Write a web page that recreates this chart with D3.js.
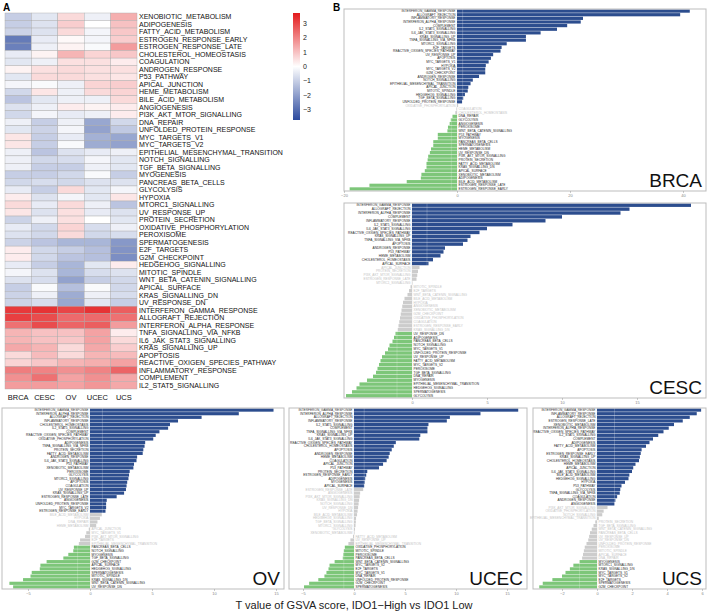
<!DOCTYPE html>
<html><head><meta charset="utf-8">
<script src="https://cdn.jsdelivr.net/npm/d3@7"></script>
<style>body{margin:0;background:#fff}svg{display:block}</style>
</head><body>
<svg id="c" width="709" height="616"></svg>
<script>
// ---------- DATA ----------
const cancers = ["BRCA","CESC","OV","UCEC","UCS"];
const pathways = ["XENOBIOTIC_METABOLISM","ADIPOGENESIS","FATTY_ACID_METABOLISM","ESTROGEN_RESPONSE_EARLY","ESTROGEN_RESPONSE_LATE","CHOLESTEROL_HOMEOSTASIS","COAGULATION","ANDROGEN_RESPONSE","P53_PATHWAY","APICAL_JUNCTION","HEME_METABOLISM","BILE_ACID_METABOLISM","ANGIOGENESIS","PI3K_AKT_MTOR_SIGNALLING","DNA_REPAIR","UNFOLDED_PROTEIN_RESPONSE","MYC_TARGETS_V1","MYC_TARGETS_V2","EPITHELIAL_MESENCHYMAL_TRANSITION","NOTCH_SIGNALLING","TGF_BETA_SIGNALLING","MYOGENESIS","PANCREAS_BETA_CELLS","GLYCOLYSIS","HYPOXIA","MTORC1_SIGNALLING","UV_RESPONSE_UP","PROTEIN_SECRETION","OXIDATIVE_PHOSPHORYLATION","PEROXISOME","SPERMATOGENESIS","E2F_TARGETS","G2M_CHECKPOINT","HEDGEHOG_SIGNALLING","MITOTIC_SPINDLE","WNT_BETA_CATENIN_SIGNALLING","APICAL_SURFACE","KRAS_SIGNALLING_DN","UV_RESPONSE_DN","INTERFERON_GAMMA_RESPONSE","ALLOGRAFT_REJECTION","INTERFERON_ALPHA_RESPONSE","TNFA_SIGNALLING_VIA_NFKB","IL6_JAK_STAT3_SIGNALLING","KRAS_SIGNALLING_UP","APOPTOSIS","REACTIVE_OXIGEN_SPECIES_PATHWAY","INFLAMMATORY_RESPONSE","COMPLEMENT","IL2_STAT5_SIGNALLING"];
const heatBRCA = [-1.0,-1.0,-0.9,-2.7,-2.6,-0.4,-0.5,0.2,-0.5,-0.2,-0.8,-1.2,-0.6,-0.8,-0.3,-0.5,0.4,0.4,-0.3,-0.3,-0.3,-1.0,-0.8,-0.4,0.3,0.6,0.4,-0.9,-0.4,-0.6,-0.9,0.3,0.3,-0.4,-0.2,-0.6,-1.0,-0.9,-0.9,3.2,3.1,2.3,1.2,1.2,1.4,0.6,0.7,2.1,1.8,1.6];
const heatCESC = [-0.5,-0.6,-0.6,-0.4,-0.3,0.2,-0.3,0.5,0.6,-0.1,0.4,-0.5,-0.3,-0.2,-1.0,-0.9,-1.0,-1.0,-1.2,-0.8,-1.0,-1.0,-0.7,-1.0,-0.6,-0.4,-0.6,-0.3,-0.8,-0.8,-1.2,-0.8,-0.8,-1.0,-0.6,-0.7,-0.1,-0.3,-0.7,3.3,2.9,2.9,1.0,1.0,1.2,1.1,0.9,2.0,2.3,1.6];
const heatOV   = [0.6,0.8,0.6,0.1,0.2,1.2,0.5,0.6,0.6,-0.3,-0.3,-0.3,0.3,-0.4,-0.3,-0.2,-0.4,-0.1,-0.6,-0.7,-1.0,-0.8,-0.8,0.6,-0.2,0.6,0.5,0.5,0.7,0.6,-1.5,-1.0,-1.2,-1.5,-1.5,-1.9,-1.3,-1.7,-1.8,3.0,2.4,2.5,1.0,0.9,0.6,0.6,1.2,1.8,1.5,1.5];
const heatUCEC = [-0.3,0.0,-0.2,-0.2,-0.1,0.7,0.5,0.5,0.5,0.7,0.6,-0.3,0.2,-0.3,-1.8,-1.9,-1.6,-1.7,-0.4,-0.2,-0.3,-0.1,-0.6,-0.5,-0.5,-0.3,-0.4,0.0,-0.7,-0.8,-1.5,-1.3,-1.3,-0.5,-0.7,-1.0,-0.1,-0.3,-0.5,3.3,2.4,2.6,1.5,1.5,1.4,1.2,1.3,2.0,1.8,1.7];
const heatUCS  = [1.3,1.0,0.9,0.8,1.6,0.9,0.3,0.5,0.4,0.8,0.7,0.6,0.3,0.3,-0.8,-1.1,-1.8,-1.9,-0.3,-0.5,-0.5,-1.0,-0.6,-0.2,0.4,-1.2,-0.6,-0.5,-0.3,-0.7,-2.1,-2.2,-2.3,0.3,-0.6,-0.8,-0.8,-0.7,-1.0,2.6,2.3,1.6,0.3,0.6,0.8,1.1,1.5,2.5,1.4,1.4];
const legendTicks = [3,2,1,0,-1,-2,-3];

const brcaNames = ["INTERFERON_GAMMA_RESPONSE","ALLOGRAFT_REJECTION","INFLAMMATORY_RESPONSE","INTERFERON_ALPHA_RESPONSE","COMPLEMENT","IL2_STAT5_SIGNALLING","IL6_JAK_STAT3_SIGNALLING","KRAS_SIGNALLING_UP","TNFA_SIGNALLING_VIA_NFKB","MTORC1_SIGNALLING","E2F_TARGETS","REACTIVE_OXIGEN_SPECIES_PATHWAY","UV_RESPONSE_UP","APOPTOSIS","MYC_TARGETS_V1","HYPOXIA","MYC_TARGETS_V2","G2M_CHECKPOINT","ANDROGEN_RESPONSE","NOTCH_SIGNALLING","EPITHELIAL_MESENCHYMAL_TRANSITION","APICAL_JUNCTION","MITOTIC_SPINDLE","HEDGEHOG_SIGNALLING","TGF_BETA_SIGNALLING","UNFOLDED_PROTEIN_RESPONSE","OXIDATIVE_PHOSPHORYLATION","COAGULATION","CHOLESTEROL_HOMEOSTASIS","DNA_REPAIR","GLYCOLYSIS","ANGIOGENESIS","PEROXISOME","WNT_BETA_CATENIN_SIGNALLING","P53_PATHWAY","MYOGENESIS","PANCREAS_BETA_CELLS","SPERMATOGENESIS","HEME_METABOLISM","UV_RESPONSE_DN","PI3K_AKT_MTOR_SIGNALLING","PROTEIN_SECRETION","FATTY_ACID_METABOLISM","KRAS_SIGNALLING_DN","APICAL_SURFACE","XENOBIOTIC_METABOLISM","ADIPOGENESIS","BILE_ACID_METABOLISM","ESTROGEN_RESPONSE_LATE","ESTROGEN_RESPONSE_EARLY"];
const brcaT = [41.2,39.5,22.3,21.9,19.5,17.7,14.8,12.2,12.2,8.8,7.9,7.7,6.4,6.0,5.6,5.1,5.0,5.0,3.9,2.8,2.4,2.0,1.9,1.4,1.1,0.9,0.2,-0.1,-0.3,-0.8,-1.1,-1.3,-1.6,-1.7,-3.4,-3.4,-4.2,-4.2,-4.6,-4.8,-5.1,-5.2,-5.4,-5.4,-5.7,-6.3,-6.4,-8.9,-15.5,-19.0];
const brcaSig = [26,21];
const brcaTicks = [-20,0,20,40];

const cescNames = ["INTERFERON_GAMMA_RESPONSE","ALLOGRAFT_REJECTION","INTERFERON_ALPHA_RESPONSE","COMPLEMENT","INFLAMMATORY_RESPONSE","IL2_STAT5_SIGNALLING","IL6_JAK_STAT3_SIGNALLING","REACTIVE_OXIGEN_SPECIES_PATHWAY","KRAS_SIGNALLING_UP","TNFA_SIGNALLING_VIA_NFKB","APOPTOSIS","ANDROGEN_RESPONSE","P53_PATHWAY","HEME_METABOLISM","CHOLESTEROL_HOMEOSTASIS","APICAL_SURFACE","APICAL_JUNCTION","PROTEIN_SECRETION","PI3K_AKT_MTOR_SIGNALLING","ESTROGEN_RESPONSE_LATE","MTORC1_SIGNALLING","MITOTIC_SPINDLE","E2F_TARGETS","WNT_BETA_CATENIN_SIGNALLING","BILE_ACID_METABOLISM","HYPOXIA","ANGIOGENESIS","XENOBIOTIC_METABOLISM","G2M_CHECKPOINT","OXIDATIVE_PHOSPHORYLATION","COAGULATION","ESTROGEN_RESPONSE_EARLY","KRAS_SIGNALLING_DN","UV_RESPONSE_DN","ADIPOGENESIS","PANCREAS_BETA_CELLS","NOTCH_SIGNALLING","MYC_TARGETS_V1","UNFOLDED_PROTEIN_RESPONSE","UV_RESPONSE_UP","FATTY_ACID_METABOLISM","MYC_TARGETS_V2","PEROXISOME","TGF_BETA_SIGNALLING","DNA_REPAIR","MYOGENESIS","EPITHELIAL_MESENCHYMAL_TRANSITION","HEDGEHOG_SIGNALLING","SPERMATOGENESIS","GLYCOLYSIS"];
const cescT = [18.6,14.5,13.9,10.0,8.9,6.7,5.0,4.5,3.9,3.7,3.4,2.2,2.1,1.9,1.4,1.1,0.5,0.4,0.35,0.3,0.03,-0.1,-0.2,-0.3,-0.5,-0.6,-0.65,-0.7,-0.75,-0.8,-0.85,-0.9,-0.95,-1.1,-1.2,-1.3,-1.5,-1.6,-1.8,-2.0,-2.1,-2.2,-2.3,-2.4,-2.6,-3.0,-3.5,-3.7,-4.0,-4.4];
const cescSig = [16,17];
const cescTicks = [0,5,10,15];

const ovNames = ["INTERFERON_GAMMA_RESPONSE","INTERFERON_ALPHA_RESPONSE","ALLOGRAFT_REJECTION","INFLAMMATORY_RESPONSE","CHOLESTEROL_HOMEOSTASIS","IL2_STAT5_SIGNALLING","COMPLEMENT","REACTIVE_OXIGEN_SPECIES_PATHWAY","OXIDATIVE_PHOSPHORYLATION","ADIPOGENESIS","TNFA_SIGNALLING_VIA_NFKB","PROTEIN_SECRETION","FATTY_ACID_METABOLISM","ANDROGEN_RESPONSE","IL6_JAK_STAT3_SIGNALLING","P53_PATHWAY","XENOBIOTIC_METABOLISM","PEROXISOME","GLYCOLYSIS","MTORC1_SIGNALLING","APOPTOSIS","COAGULATION","UV_RESPONSE_UP","KRAS_SIGNALLING_UP","ESTROGEN_RESPONSE_LATE","ANGIOGENESIS","UNFOLDED_PROTEIN_RESPONSE","MYC_TARGETS_V2","ESTROGEN_RESPONSE_EARLY","BILE_ACID_METABOLISM","HYPOXIA","DNA_REPAIR","HEME_METABOLISM","APICAL_JUNCTION","MYC_TARGETS_V1","PI3K_AKT_MTOR_SIGNALLING","E2F_TARGETS","EPITHELIAL_MESENCHYMAL_TRANSITION","PANCREAS_BETA_CELLS","NOTCH_SIGNALLING","MYOGENESIS","TGF_BETA_SIGNALLING","G2M_CHECKPOINT","APICAL_SURFACE","HEDGEHOG_SIGNALLING","SPERMATOGENESIS","MITOTIC_SPINDLE","KRAS_SIGNALLING_DN","WNT_BETA_CATENIN_SIGNALLING","UV_RESPONSE_DN"];
const ovT = [14.8,12.0,9.0,7.1,6.45,6.3,5.6,5.3,5.1,4.45,4.4,4.3,4.25,3.8,3.75,3.55,3.5,3.2,3.15,3.1,3.0,2.95,2.9,2.75,2.15,1.35,1.3,1.3,1.25,0.95,0.8,0.6,0.5,-0.1,-0.3,-0.4,-0.8,-0.9,-1.3,-1.35,-1.75,-2.15,-3.5,-4.0,-4.05,-4.7,-4.8,-5.4,-6.5,-6.2];
const ovSig = [29,12];
const ovTicks = [-5,0,5,10,15];

const ucecNames = ["INTERFERON_GAMMA_RESPONSE","INTERFERON_ALPHA_RESPONSE","ALLOGRAFT_REJECTION","INFLAMMATORY_RESPONSE","IL2_STAT5_SIGNALLING","COMPLEMENT","TNFA_SIGNALLING_VIA_NFKB","KRAS_SIGNALLING_UP","IL6_JAK_STAT3_SIGNALLING","REACTIVE_OXIGEN_SPECIES_PATHWAY","CHOLESTEROL_HOMEOSTASIS","APOPTOSIS","ANDROGEN_RESPONSE","HEME_METABOLISM","COAGULATION","APICAL_JUNCTION","P53_PATHWAY","PROTEIN_SECRETION","ESTROGEN_RESPONSE_EARLY","ADIPOGENESIS","MYOGENESIS","APICAL_SURFACE","ESTROGEN_RESPONSE_LATE","ANGIOGENESIS","PI3K_AKT_MTOR_SIGNALLING","KRAS_SIGNALLING_DN","NOTCH_SIGNALLING","UV_RESPONSE_DN","HYPOXIA","BILE_ACID_METABOLISM","HEDGEHOG_SIGNALLING","TGF_BETA_SIGNALLING","MTORC1_SIGNALLING","GLYCOLYSIS","XENOBIOTIC_METABOLISM","FATTY_ACID_METABOLISM","UV_RESPONSE_UP","EPITHELIAL_MESENCHYMAL_TRANSITION","OXIDATIVE_PHOSPHORYLATION","MITOTIC_SPINDLE","PEROXISOME","PANCREAS_BETA_CELLS","WNT_BETA_CATENIN_SIGNALLING","MYC_TARGETS_V2","E2F_TARGETS","MYC_TARGETS_V1","DNA_REPAIR","UNFOLDED_PROTEIN_RESPONSE","G2M_CHECKPOINT","SPERMATOGENESIS"];
const ucecT = [16.1,12.4,9.4,9.1,7.3,7.2,7.2,6.5,6.4,4.1,3.9,3.7,3.5,3.4,3.2,2.85,2.45,1.3,1.2,1.1,1.05,1.0,0.9,0.6,0.55,0.5,0.45,0.4,0.35,0.3,0.2,0.18,0.15,0.1,0.05,-0.1,-0.35,-0.55,-0.9,-1.0,-1.05,-1.1,-1.9,-2.4,-2.5,-2.7,-2.9,-3.5,-4.4,-4.9];
const ucecSig = [22,12];
const ucecTicks = [-5,0,5,10,15];

const ucsNames = ["INTERFERON_GAMMA_RESPONSE","INFLAMMATORY_RESPONSE","ALLOGRAFT_REJECTION","ESTROGEN_RESPONSE_LATE","XENOBIOTIC_METABOLISM","INTERFERON_ALPHA_RESPONSE","REACTIVE_OXIGEN_SPECIES_PATHWAY","IL2_STAT5_SIGNALLING","COMPLEMENT","ADIPOGENESIS","FATTY_ACID_METABOLISM","APOPTOSIS","ESTROGEN_RESPONSE_EARLY","KRAS_SIGNALLING_UP","CHOLESTEROL_HOMEOSTASIS","HEME_METABOLISM","APICAL_JUNCTION","IL6_JAK_STAT3_SIGNALLING","BILE_ACID_METABOLISM","HEDGEHOG_SIGNALLING","HYPOXIA","P53_PATHWAY","GLYCOLYSIS","TNFA_SIGNALLING_VIA_NFKB","COAGULATION","ANDROGEN_RESPONSE","ANGIOGENESIS","PI3K_AKT_MTOR_SIGNALLING","OXIDATIVE_PHOSPHORYLATION","NOTCH_SIGNALLING","EPITHELIAL_MESENCHYMAL_TRANSITION","PROTEIN_SECRETION","TGF_BETA_SIGNALLING","WNT_BETA_CATENIN_SIGNALLING","PANCREAS_BETA_CELLS","UV_RESPONSE_UP","UV_RESPONSE_DN","UNFOLDED_PROTEIN_RESPONSE","PEROXISOME","MITOTIC_SPINDLE","APICAL_SURFACE","DNA_REPAIR","MYOGENESIS","MTORC1_SIGNALLING","KRAS_SIGNALLING_DN","MYC_TARGETS_V1","MYC_TARGETS_V2","E2F_TARGETS","SPERMATOGENESIS","G2M_CHECKPOINT"];
const ucsT = [5.95,5.7,5.3,4.9,4.4,4.1,3.8,3.5,3.2,3.0,2.8,2.55,2.5,2.45,2.4,2.2,2.07,2.0,1.85,1.8,1.6,1.4,1.33,1.3,1.15,1.05,1.0,0.6,0.38,0.3,0.1,-0.1,-0.2,-0.3,-0.4,-0.45,-0.5,-0.6,-0.7,-0.75,-0.8,-0.85,-1.0,-1.35,-1.55,-1.8,-2.0,-2.55,-3.1,-3.3];
const ucsSig = [27,8];
const ucsTicks = [-2,0,2,4,6];

const xTitle = "T value of GSVA score, IDO1\u2212High vs IDO1 Low";

// ---------- DRAW ----------
const svg = d3.select("#c");
const FONT = "Liberation Sans, Arial, Helvetica, sans-serif";
svg.append("rect").attr("width",709).attr("height",616).attr("fill","#fff");

// Panel A: heatmap
const heatCols = [heatBRCA, heatCESC, heatOV, heatUCEC, heatUCS];
const hx = d3.scaleBand().domain(cancers).range([5,137]);
const hy = d3.scaleBand().domain(pathways).range([13,389]);
const color = d3.scaleLinear().domain([-3.7,0,3.7]).range(["#2c4a9e","#ffffff","#e31a1c"]).interpolate(d3.interpolateRgb);
const cells = [];
cancers.forEach((c,ci)=>pathways.forEach((p,pi)=>cells.push({c,p,v:heatCols[ci][pi]})));
const gA = svg.append("g");
gA.selectAll("rect.cell").data(cells).join("rect").attr("class","cell")
  .attr("x",d=>hx(d.c)).attr("y",d=>hy(d.p)).attr("width",hx.bandwidth()).attr("height",hy.bandwidth())
  .attr("fill",d=>color(d.v)).attr("stroke","#a8a8a8").attr("stroke-width",0.4);
gA.selectAll("text.row").data(pathways).join("text").attr("class","row")
  .attr("x",139).attr("y",d=>hy(d)+hy.bandwidth()/2).attr("dy","0.36em")
  .attr("font-family",FONT).attr("font-size",7).attr("fill","#111").text(d=>d);
gA.selectAll("text.col").data(cancers).join("text").attr("class","col")
  .attr("x",d=>hx(d)+hx.bandwidth()/2).attr("y",400).attr("text-anchor","middle")
  .attr("font-family",FONT).attr("font-size",7.5).attr("fill","#111").text(d=>d);
// legend
const defs = svg.append("defs");
const grad = defs.append("linearGradient").attr("id","lg").attr("x1",0).attr("y1",1).attr("x2",0).attr("y2",0);
d3.range(0,1.0001,0.05).forEach(t=>grad.append("stop").attr("offset",t).attr("stop-color",color(-3.7+7.4*t)));
const ly = d3.scaleLinear().domain([-3.7,3.7]).range([120,13]);
gA.append("rect").attr("x",293).attr("y",ly(3.7)).attr("width",7).attr("height",ly(-3.7)-ly(3.7)).attr("fill","url(#lg)");
gA.selectAll("text.lt").data(legendTicks).join("text").attr("class","lt")
  .attr("x",303).attr("y",d=>ly(d)).attr("dy","0.36em").attr("font-family",FONT).attr("font-size",7).attr("fill","#222")
  .text(d=>d<0?"\u2212"+Math.abs(d):d);
svg.append("text").attr("x",3).attr("y",11).attr("font-family",FONT).attr("font-weight","bold").attr("font-size",10).text("A");
svg.append("text").attr("x",333).attr("y",11).attr("font-family",FONT).attr("font-weight","bold").attr("font-size",10).text("B");

// Panel B: bar panels
const panels = [
  {name:"BRCA",names:brcaNames,t:brcaT,sig:brcaSig,ticks:brcaTicks,box:[344,706,9,191],zero:457,ppu:5.65},
  {name:"CESC",names:cescNames,t:cescT,sig:cescSig,ticks:cescTicks,box:[344,706,203,398],zero:412,ppu:15},
  {name:"OV",names:ovNames,t:ovT,sig:ovSig,ticks:ovTicks,box:[2,284,408,589],zero:90,ppu:12.4},
  {name:"UCEC",names:ucecNames,t:ucecT,sig:ucecSig,ticks:ucecTicks,box:[289,527,408,589],zero:354,ppu:10.2},
  {name:"UCS",names:ucsNames,t:ucsT,sig:ucsSig,ticks:ucsTicks,box:[533,706,408,589],zero:597,ppu:17.5}
];
const BLUE="#2c4d8e", GREEN="#7dc679", GREY="#cccccc";
panels.forEach(P=>{
  const [x0,x1,y0,y1]=P.box;
  const x = d3.scaleLinear().domain([(x0-P.zero)/P.ppu,(x1-P.zero)/P.ppu]).range([x0,x1]);
  const y = d3.scaleBand().domain(P.names).range([y0+0.5,y1-0.5]).paddingInner(0.12);
  const n = P.names.length;
  const data = P.names.map((nm,i)=>({nm,v:P.t[i],
    cls: i<P.sig[0]?"up":(i>=n-P.sig[1]?"down":"ns")}));
  const g = svg.append("g");
  g.append("rect").attr("x",x0).attr("y",y0).attr("width",x1-x0).attr("height",y1-y0).attr("fill","#fff");
  g.append("line").attr("x1",x(0)).attr("x2",x(0)).attr("y1",y0).attr("y2",y1).attr("stroke","#e6e6e6").attr("stroke-width",0.6);
  g.selectAll("rect.bar").data(data).join("rect").attr("class","bar")
    .attr("x",d=>x(Math.min(0,d.v))).attr("width",d=>Math.abs(x(d.v)-x(0)))
    .attr("y",d=>y(d.nm)).attr("height",y.bandwidth())
    .attr("fill",d=>d.cls==="up"?BLUE:d.cls==="down"?GREEN:GREY);
  // faint guide lines at +/-1 over bars
  [-1,1].forEach(v=>g.append("line").attr("x1",x(v)).attr("x2",x(v)).attr("y1",y0).attr("y2",y1)
    .attr("stroke","#fff").attr("stroke-opacity",0.35).attr("stroke-width",0.6));
  g.selectAll("text.bl").data(data).join("text").attr("class","bl")
    .attr("x",d=>d.v>=0?x(0)-1.5:x(0)+1.5).attr("text-anchor",d=>d.v>=0?"end":"start")
    .attr("y",d=>y(d.nm)+y.bandwidth()/2).attr("dy","0.35em")
    .attr("font-family",FONT).attr("font-size",3.2)
    .attr("fill",d=>d.cls==="ns"?"#c4c4c4":"#2a2a2a").text(d=>d.nm);
  g.append("rect").attr("x",x0).attr("y",y0).attr("width",x1-x0).attr("height",y1-y0)
    .attr("fill","none").attr("stroke","#bdbdbd").attr("stroke-width",1);
  const ax = d3.axisBottom(x).tickValues(P.ticks).tickSize(2).tickPadding(1.5).tickFormat(d=>d<0?"\u2212"+Math.abs(d):d);
  const ga = g.append("g").attr("transform",`translate(0,${y1})`).call(ax);
  ga.select(".domain").remove();
  ga.selectAll("line").attr("stroke","#999").attr("stroke-width",0.5);
  ga.selectAll("text").attr("font-family",FONT).attr("font-size",4).attr("fill","#888");
  g.append("text").attr("x",x1-4).attr("y",y1-4).attr("text-anchor","end")
    .attr("font-family",FONT).attr("font-size",19).attr("fill","#111").text(P.name);
});

svg.append("text").attr("x",354).attr("y",609).attr("text-anchor","middle")
  .attr("font-family",FONT).attr("font-size",11).attr("fill","#222").text(xTitle);
</script></body></html>
